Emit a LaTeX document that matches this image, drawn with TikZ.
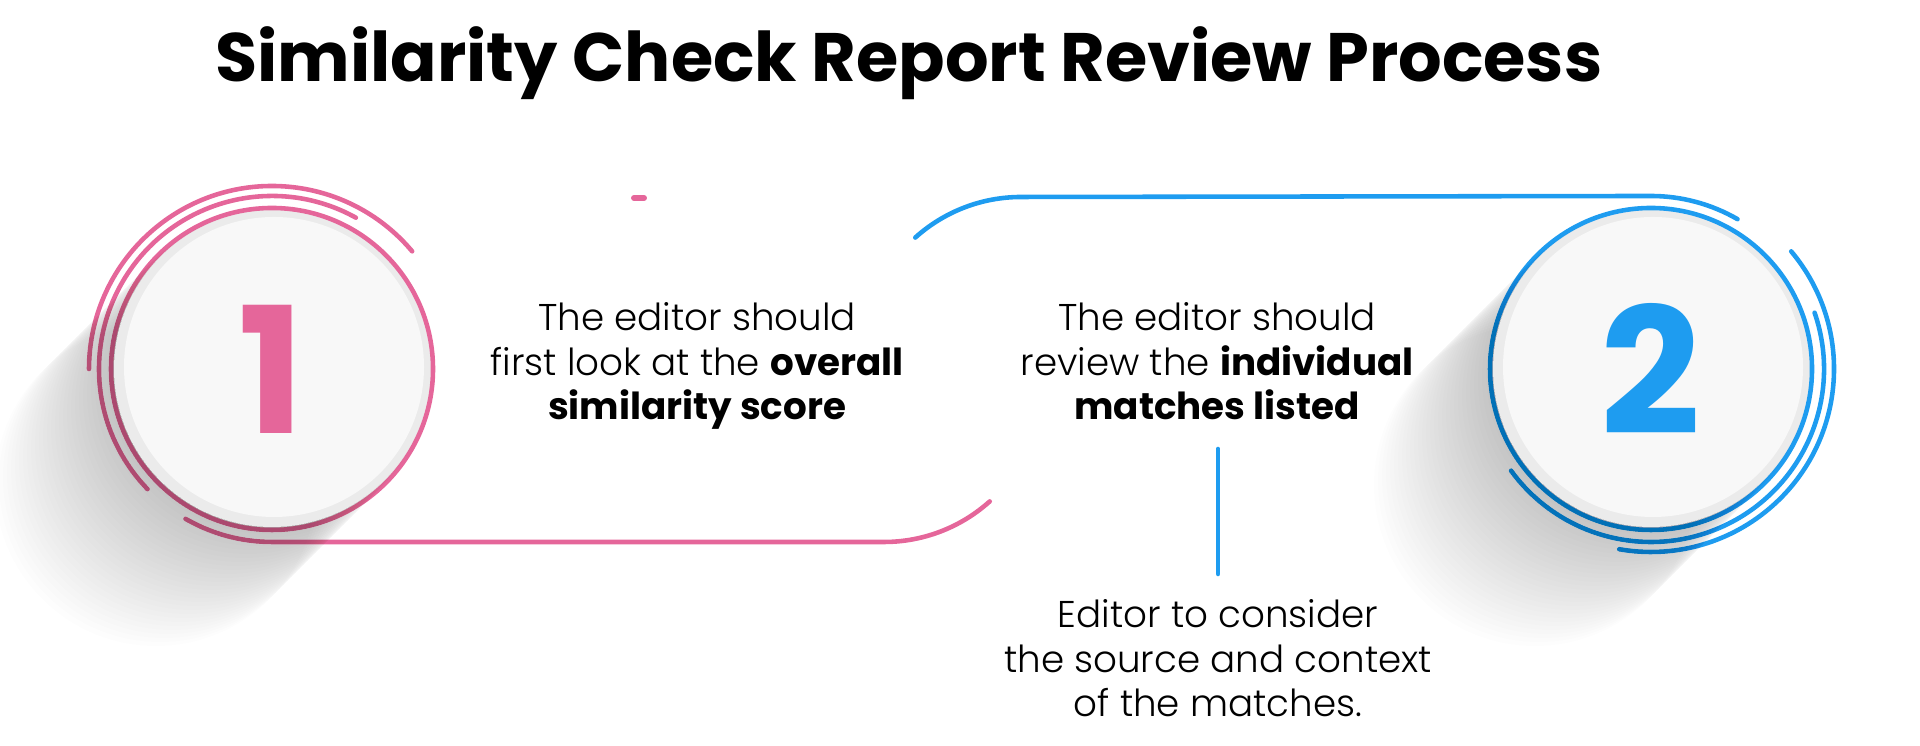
\documentclass[tikz,border=0pt]{standalone}
\usepackage{fontspec}
\setmainfont{Poppins}[UprightFont = * Light, BoldFont = * Bold]
\newfontfamily\headfont{Poppins}[UprightFont = * Bold]
\usetikzlibrary{calc}
\definecolor{pinkline}{HTML}{E5669A}
\definecolor{blueline}{HTML}{1E9CF0}
\definecolor{diskfill}{HTML}{F8F8F8}
\definecolor{diskrim}{HTML}{EBEBEB}

\begin{document}
\begin{tikzpicture}[
    ring/.style={line width=1.3pt, line cap=round},
    bodytext/.style={align=center, anchor=base, font=\fontsize{10.6}{12.7}\selectfont},
    digit/.style={font=\fontsize{50}{50}\selectfont\headfont}
  ]
    \useasboundingbox (0,0) rectangle (19.2,7.46);
    \coordinate (c1) at (2.72,3.77);
    \coordinate (c2) at (16.51,3.77);
    \coordinate (bend) at (10.21,3.91);
    \coordinate (vtop) at (12.18,2.97);
    \coordinate (vbot) at (12.18,1.72);

    % Draw the two disks
    \foreach \c in {c1,c2} {
        \fill[diskrim] (\c) circle (1.61);
        \fill[diskfill] ($(\c)+(0.02,0.02)$) circle (1.50);
    }

    % pink rings and track
    \draw[ring, pinkline] (c1) circle (1.61);
    \draw[ring, pinkline] ([shift={(40:1.83)}]c1) arc[start angle=40, end angle=180, radius=1.83];
    \draw[ring, pinkline] ([shift={(61:1.73)}]c1) arc[start angle=61, end angle=224, radius=1.73];
    \draw[ring, pinkline] ([shift={(240:1.73)}]c1) arc[start angle=240, end angle=270, radius=1.73]
        -- (8.84,2.04) arc[start angle=270, end angle=312, radius=1.58];
    \draw[pinkline, line width=1.7pt, line cap=round] (6.34,5.48) -- (6.44,5.48);

    % blue rings and track
    \draw[ring, blueline] (c2) circle (1.61);
    \draw[ring, blueline] ([shift={(40:1.83)}]c2) arc[start angle=40, end angle=-100, radius=1.83];
    \draw[ring, blueline] ([shift={(19:1.73)}]c2) arc[start angle=19, end angle=-144, radius=1.73];
    \draw[ring, blueline] ([shift={(132:1.58)}]bend) arc[start angle=132, end angle=90, radius=1.58]
        -- ($(c2)+(0,1.73)$) arc[start angle=90, end angle=60, radius=1.73];
    \draw[ring, blueline] (vtop) -- (vbot);

    % shadows
    \begin{scope}[even odd rule]
        \clip (c1) circle (1.58) (c2) circle (1.58) (0,0) rectangle (19.2,7.46);
        \foreach \c in {c1,c2}
            \foreach \s in {0.04,0.08,...,1.2}
                \fill[black, opacity=0.006] ($(\c)+(-\s,-\s)$) circle (1.61);
    \end{scope}

    \node[digit, text=pinkline] (one) at (c1) {1};
    \node[digit, text=blueline] (two) at (c2) {2};

    \node[font=\fontsize{19.5}{24}\selectfont\headfont, anchor=base] (title) at (9.09,6.64) {Similarity Check Report Review Process};

    % text blocks, anchored at their last line
    \node[bodytext] (txtA) at (6.97,3.26) {The editor should\\first look at the \textbf{overall}\\\textbf{similarity score}};
    \node[bodytext] (txtB) at (12.17,3.26) {The editor should\\review the \textbf{individual}\\\textbf{matches listed}};
    \node[bodytext] (txtC) at (12.18,0.29) {Editor to consider\\the source and context\\of the matches.};
\end{tikzpicture}
\end{document}
